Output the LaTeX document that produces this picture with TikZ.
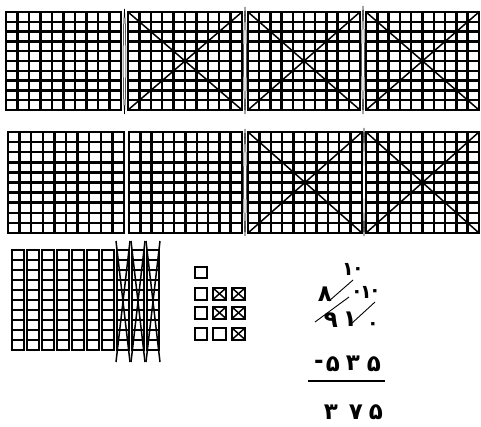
\documentclass[tikz,border=0pt]{standalone}
\usepackage{fontspec}
\newfontfamily\arabicfont[Script=Arabic]{DejaVu Sans}
\newcommand\tengrid[4]{%
  \foreach \i in {1,...,9}{
    \draw[gl] ({#1+(#3-#1)*\i/10},#2) -- ({#1+(#3-#1)*\i/10},#4);
    \draw[gl] (#1,{#2+(#4-#2)*\i/10}) -- (#3,{#2+(#4-#2)*\i/10});
  }
  \draw[gborder] (#1,#2) rectangle (#3,#4);
}
\newcommand\crossit[4]{\draw[diag] (#1,#2) -- (#3,#4) (#1,#4) -- (#3,#2);}
\newcommand\lensmark[3]{% x top bottom
  \draw[lens] (#1,#2) .. controls ({#1-1.8},{#2+25}) and ({#1-1.8},{#3-25}) .. (#1,#3)
              .. controls ({#1+1.8},{#3-25}) and ({#1+1.8},{#2+25}) .. (#1,#2);}
\newcommand\rod[3]{% left top right
  \foreach \j in {1,...,9}{\draw[gl] (#1,{#2+10*\j}) -- (#3,{#2+10*\j});}
  \draw[gborder] (#1,#2) rectangle (#3,{#2+100});}
\begin{document}
\begin{tikzpicture}[x=1pt,y=-1pt,
  gl/.style={line width=2.5pt},
  gborder/.style={line width=2.8pt},
  diag/.style={line width=1.5pt},
  lens/.style={line width=0.5pt},
  sq/.style={line width=2pt},
  ar/.style={font=\arabicfont\bfseries\fontsize{23}{23}\selectfont, inner sep=0pt},
  arsm/.style={font=\arabicfont\bfseries\fontsize{19}{19}\selectfont, inner sep=0pt},
  slash/.style={line width=0.9pt}]
\useasboundingbox (0,0) rectangle (481,427);
\fill[white] (0,0) rectangle (481,427);
% row 1
\tengrid{6}{12}{121}{110}
\tengrid{128}{12}{242}{110}
\tengrid{248}{12}{360}{110}
\tengrid{366}{12}{479}{110}
\crossit{128}{12}{242}{110}
\crossit{248}{12}{360}{110}
\crossit{366}{12}{479}{110}
\lensmark{124.5}{9}{114}
\lensmark{245}{7}{114}
\lensmark{363}{6}{114}
% row 2
\tengrid{8}{132}{124}{233}
\tengrid{129}{132}{242}{233}
\tengrid{248}{132}{362}{233}
\tengrid{366}{132}{479}{233}
\crossit{248}{132}{362}{233}
\crossit{366}{132}{479}{233}
\lensmark{245}{129}{236}
\lensmark{364}{128}{236}
% rods
\foreach \k in {0,...,9}{\rod{12+15*\k}{250}{24+15*\k}}
\foreach \k in {7,8,9}{\draw[diag] ({11+15*\k},241) -- ({25+15*\k},362) ({25+15*\k},241) -- ({11+15*\k},362);}
% small squares
\draw[sq] (195,267) rectangle (207,278);
\foreach \yy in {288,307,328}{\draw[sq] (195,\yy) rectangle (207,\yy+11.5);}
\foreach \yy in {288,307}{\draw[sq] (213,\yy) rectangle (226,\yy+11.5); \crossit{213}{\yy}{226}{\yy+11.5}}
\draw[sq] (213,328) rectangle (226,339.5);
\foreach \yy in {288,307,328}{\draw[sq] (232,\yy) rectangle (245,\yy+11.5); \crossit{232}{\yy}{245}{\yy+11.5}}
% subtraction
\node[arsm] (t1) at (348,269) {١};
\node[arsm] (t0) at (358,271) {٠};
\node[ar] (e8) at (325,294) {٨};
\node[arsm] (m0) at (357,294) {٠};
\node[arsm] (r1) at (366,292) {١};
\node[arsm] (r0) at (375,293) {٠};
\node[ar] (n9) at (331,320) {٩};
\node[ar] (n1) at (350,319) {١};
\node[arsm] (n0) at (373,326) {٠};
\draw[slash] (329,301) -- (353,280);
\draw[slash] (315,322) -- (349,297);
\draw[slash] (351,324) -- (375,302);
\node[ar] (mi) at (319,364) {-};
\node[ar] (s5a) at (333,364) {۵};
\node[ar] (s3) at (353,363) {٣};
\node[ar] (s5b) at (374,364) {۵};
\draw[line width=2pt] (308,381) -- (385,381);
\node[ar] (a3) at (331,412) {٣};
\node[ar] (a7) at (356,412) {٧};
\node[ar] (a5) at (376,412) {۵};
\end{tikzpicture}
\end{document}
